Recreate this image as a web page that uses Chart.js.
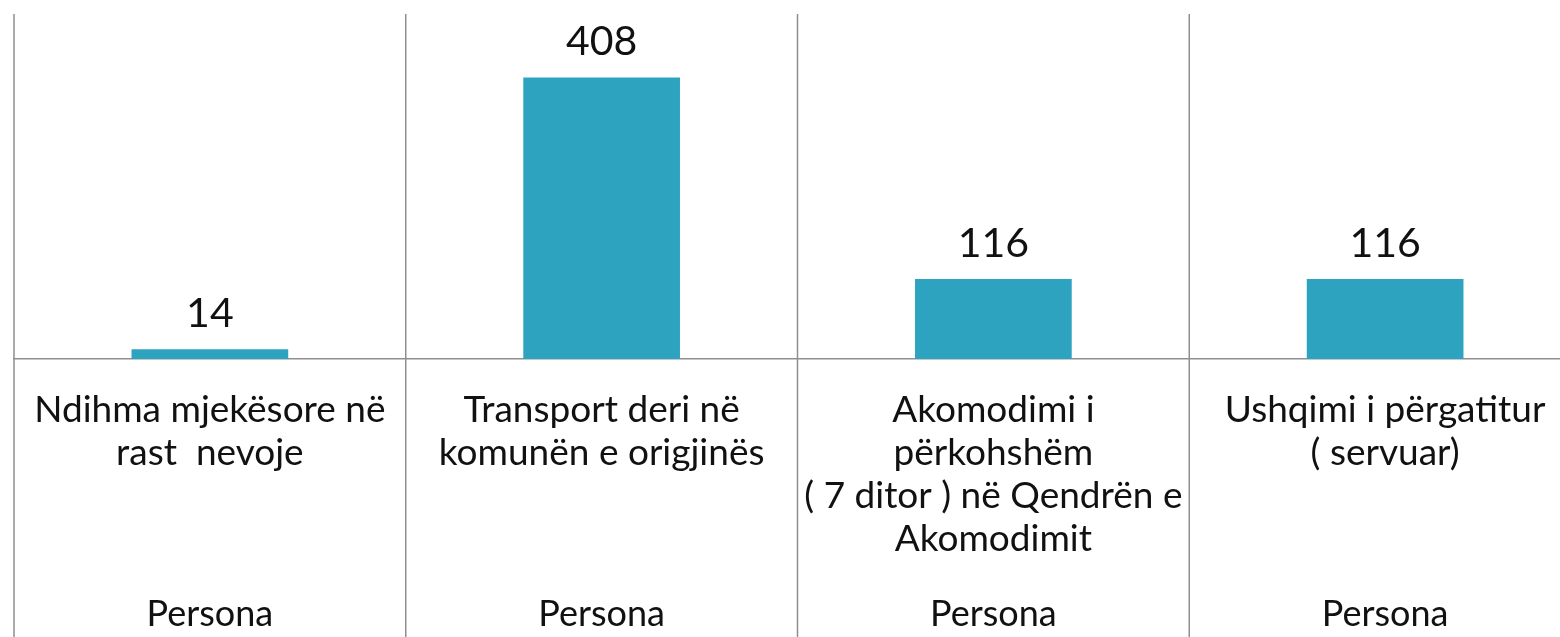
<!DOCTYPE html>
<html>
<head>
<meta charset="utf-8">
<script src="https://cdn.jsdelivr.net/npm/chart.js@4.4.1/dist/chart.umd.min.js"></script>
<style>
    html, body { margin: 0; padding: 0; background: #fff; overflow: hidden; }
    #wrap { width: 1581px; height: 637px; position: relative; }
</style>
</head>
<body>
<div id="wrap"><canvas id="chart"></canvas></div>
<script>
// categories (multi-line labels) and values
const categories = [
    ['Ndihma mjekësore në', 'rast  nevoje'],
    ['Transport deri në', 'komunën e origjinës'],
    ['Akomodimi i', 'përkohshëm', '( 7 ditor ) në Qendrën e', 'Akomodimit'],
    ['Ushqimi i përgatitur', '( servuar)']
];
const units = ['Persona', 'Persona', 'Persona', 'Persona'];
const values = [14, 408, 116, 116];

const FONT = 'Lato, "Open Sans", sans-serif';
const LINE_COLOR = '#8f8f8f';

// value labels above bars
const valueLabels = {
    id: 'valueLabels',
    afterDatasetsDraw(chart) {
        const ctx = chart.ctx;
        const meta = chart.getDatasetMeta(0);
        ctx.save();
        ctx.font = '41px ' + FONT;
        ctx.fillStyle = '#111';
        ctx.textAlign = 'center';
        ctx.textBaseline = 'alphabetic';
        meta.data.forEach((bar, i) => {
            ctx.fillText(String(values[i]), bar.x, bar.y - 22);
        });
        ctx.restore();
    }
};

// extend the category separators down through the label area
const separators = {
    id: 'separators',
    afterDraw(chart) {
        const ctx = chart.ctx;
        const x = chart.scales.x;
        const step = x.width / categories.length;
        ctx.save();
        ctx.strokeStyle = LINE_COLOR;
        ctx.lineWidth = 1.5;
        for (let i = 0; i < categories.length; i++) {
            const px = x.getPixelForValue(i) - step / 2;
            ctx.beginPath();
            ctx.moveTo(px, chart.chartArea.top);
            ctx.lineTo(px, chart.height);
            ctx.stroke();
        }
        ctx.restore();
    }
};

new Chart(document.getElementById('chart'), {
    type: 'bar',
    data: {
        labels: categories,
        datasets: [{
            data: values,
            backgroundColor: '#2ea3bf',
            barPercentage: 0.4,
            categoryPercentage: 1
        }]
    },
    options: {
        responsive: true,
        maintainAspectRatio: false,
        animation: false,
        layout: { padding: { left: 14, top: 14, right: 0, bottom: 0 } },
        plugins: { legend: { display: false }, tooltip: { enabled: false } },
        scales: {
            y: { display: false, min: 0, max: 500 },
            x: {
                position: 'bottom',
                grid: { display: false, drawTicks: false },
                border: { display: true, color: LINE_COLOR, width: 1.5 },
                ticks: {
                    maxRotation: 0, autoSkip: false, padding: 30,
                    color: '#111',
                    font: { family: FONT, size: 37, lineHeight: 1.16 }
                },
                afterFit(scale) { scale.height = 215; }
            },
            x2: {
                type: 'category',
                position: 'bottom',
                labels: units,
                grid: { display: false, drawTicks: false },
                border: { display: false },
                ticks: {
                    maxRotation: 0, autoSkip: false, padding: 20,
                    color: '#111',
                    font: { family: FONT, size: 36, lineHeight: 1.16 }
                },
                afterFit(scale) { scale.height = 63; }
            }
        }
    },
    plugins: [valueLabels, separators]
});
</script>
</body>
</html>
